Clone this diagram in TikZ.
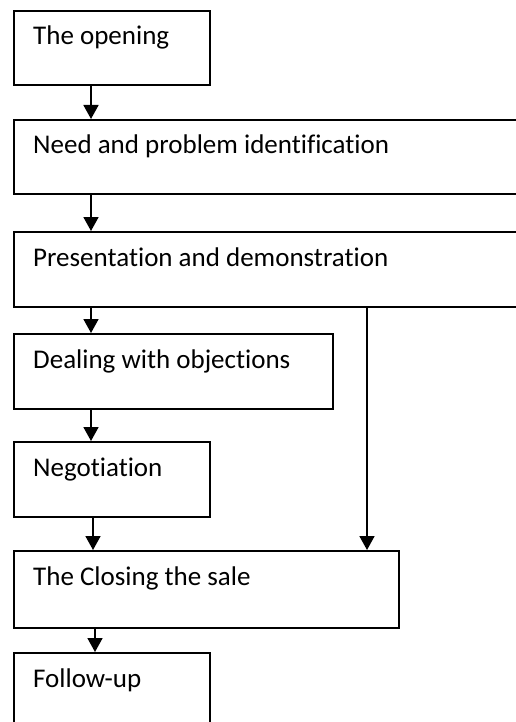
\documentclass[tikz,border=0pt]{standalone}
\usepackage{fontspec}
\setmainfont{Carlito}[RawFeature={-liga;-dlig;-clig}]
\usetikzlibrary{arrows.meta}
\tikzset{
  stepbox/.style={draw=black, line width=1.7pt, rectangle, inner sep=0pt, anchor=north west},
  steptext/.style={anchor=base west, inner sep=0pt, font=\fontsize{27}{32}\selectfont},
  flow/.style={draw=black, line width=1.7pt, -{Triangle[width=15pt,length=14pt]}}
}
\begin{document}
\begin{tikzpicture}[x=1pt,y=-1pt]
  \useasboundingbox (0,0) rectangle (516,722);
  \clip (0,0) rectangle (516,722);
  % process steps
  \node[stepbox, minimum width=196pt, minimum height=74pt] (b1) at (13,10) {};
  \node[stepbox, minimum width=520pt, minimum height=74pt] (b2) at (13,119) {};
  \node[stepbox, minimum width=520pt, minimum height=75pt] (b3) at (13,231) {};
  \node[stepbox, minimum width=319pt, minimum height=75pt] (b4) at (13,333) {};
  \node[stepbox, minimum width=196pt, minimum height=75pt] (b5) at (13,441) {};
  \node[stepbox, minimum width=385pt, minimum height=77pt] (b6) at (13,550) {};
  \node[stepbox, minimum width=196pt, minimum height=90pt] (b7) at (13,652) {};
  % labels
  \node[steptext] (t1) at ([shift={(20,35)}]b1.north west) {The opening};
  \node[steptext] (t2) at ([shift={(20,35)}]b2.north west) {Need and problem identification};
  \node[steptext] (t3) at ([shift={(20,35)}]b3.north west) {Presentation and demonstration};
  \node[steptext] (t4) at ([shift={(20,35)}]b4.north west) {Dealing with objections};
  \node[steptext] (t5) at ([shift={(20,35)}]b5.north west) {Negotiation};
  \node[steptext] (t6) at ([shift={(20,35)}]b6.north west) {The Closing the sale};
  \node[steptext] (t7) at ([shift={(20,35)}]b7.north west) {Follow-up};
  % connectors
  \draw[flow] ([xshift=78]b1.south west) -- ([xshift=78]b2.north west);
  \draw[flow] ([xshift=78]b2.south west) -- ([xshift=78]b3.north west);
  \draw[flow] ([xshift=78]b3.south west) -- ([xshift=78]b4.north west);
  \draw[flow] ([xshift=78]b4.south west) -- ([xshift=78]b5.north west);
  \draw[flow] ([xshift=80]b5.south west) -- ([xshift=80]b6.north west);
  \draw[flow] ([xshift=354]b3.south west) -- ([xshift=354]b6.north west);
  \draw[flow] ([xshift=82]b6.south west) -- ([xshift=82]b7.north west);
\end{tikzpicture}
\end{document}
